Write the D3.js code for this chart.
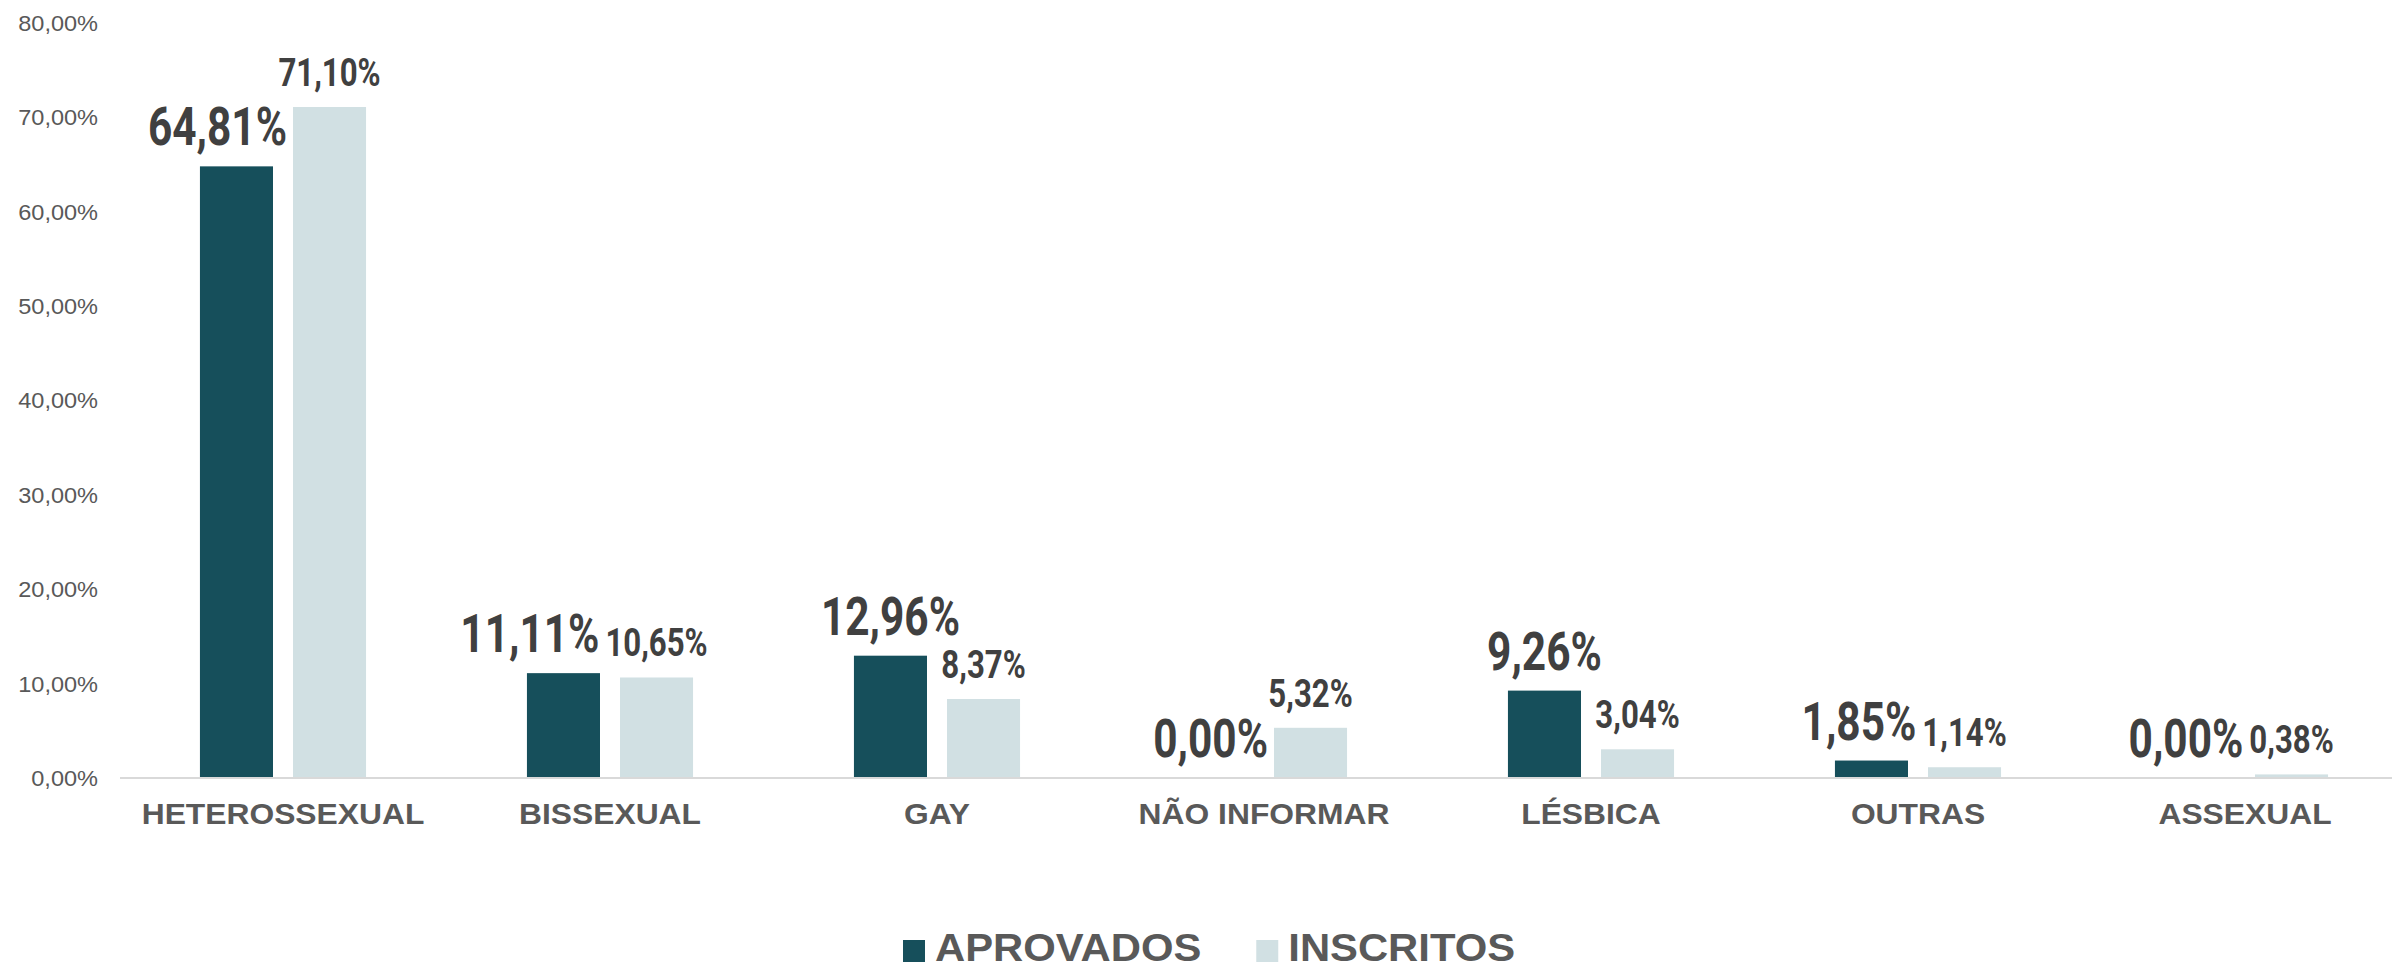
<!DOCTYPE html>
<html>
	<head>
		<meta charset="utf-8">
		<style type="text/css">
			body { margin: 0; background: #fff; }
			svg  { display: block; }
		</style>
		<title>Orientação sexual - aprovados e inscritos</title>
	</head>
	<body>
		<script src="https://cdn.jsdelivr.net/npm/d3@7"></script>
		<script>

// data /////////////////////////////////////////////////////////////////////

var categories = ["HETEROSSEXUAL", "BISSEXUAL", "GAY", "NÃO INFORMAR", "LÉSBICA", "OUTRAS", "ASSEXUAL"];
var series     = ["APROVADOS", "INSCRITOS"];
var aprovados  = [64.81, 11.11, 12.96, 0.00, 9.26, 1.85, 0.00];
var inscritos  = [71.10, 10.65, 8.37, 5.32, 3.04, 1.14, 0.38];
var y_ticks    = [0, 10, 20, 30, 40, 50, 60, 70, 80];

// helpers //////////////////////////////////////////////////////////////////

var width = 2392, height = 971;

var colors   = {APROVADOS: "#164f5b", INSCRITOS: "#d1e0e3"};
var txt_gray = "#595959", lbl_gray = "#404040";

var pt = d3.formatLocale({decimal: ",", thousands: ".", grouping: [3], currency: ["R$", ""]});
var fmt = v => pt.format(".2f")(v) + "%";

var svg = d3.select("body").append("svg")
	.attr("width", width)
	.attr("height", height);

var x0 = d3.scaleBand()
	.domain(categories)
	.range([119.5, 2408.5])
	.paddingInner(0.492)
	.paddingOuter(0.246);

var x1 = d3.scaleBand()
	.domain(series)
	.range([0, x0.bandwidth()])
	.paddingInner(0.215);

var y = d3.scaleLinear()
	.domain([0, 80])
	.range([778, 23]);

var rows = categories.map((c, i) => ({cat: c, APROVADOS: aprovados[i], INSCRITOS: inscritos[i]}));

// stretched text: the picture is slightly wider than tall fonts
function stext(g, x, y, sx) {
	return g.append("text")
		.attr("transform", `translate(${x},${y}) scale(${sx},1)`);
}

// y axis ///////////////////////////////////////////////////////////////////

var yax = svg.append("g");
y_ticks.forEach(t => {
	stext(yax, 98, y(t), 1.07)
		.attr("dy", "0.36em")
		.attr("text-anchor", "end")
		.attr("font-family", "Liberation Sans, Arial, sans-serif")
		.attr("font-size", 22)
		.attr("fill", txt_gray)
		.text(fmt(t));
});

// bars /////////////////////////////////////////////////////////////////////

var groups = svg.selectAll(".cat")
	.data(rows)
	.join("g")
		.attr("class", "cat")
		.attr("transform", d => `translate(${x0(d.cat)},0)`);

groups.selectAll("rect")
	.data(d => series.map(s => ({s: s, v: d[s]})))
	.join("rect")
		.attr("x", d => x1(d.s))
		.attr("y", d => y(d.v))
		.attr("width", x1.bandwidth())
		.attr("height", d => y(0) - y(d.v))
		.attr("fill", d => colors[d.s]);

svg.append("line")
	.attr("x1", 120).attr("x2", width)
	.attr("y1", y(0)).attr("y2", y(0))
	.attr("stroke", "#d9d9d9")
	.attr("stroke-width", 2);

// category labels
rows.forEach(d => {
	stext(svg, x0(d.cat) + x0.bandwidth() / 2, 824, 1.06)
		.attr("text-anchor", "middle")
		.attr("font-family", "Liberation Sans, Arial, sans-serif")
		.attr("font-weight", "bold")
		.attr("font-size", 30)
		.attr("fill", txt_gray)
		.text(d.cat);
});

// data labels //////////////////////////////////////////////////////////////

var lbl_size = {APROVADOS: 53, INSCRITOS: 39};
var lbl_sx = 0.8, lbl_gap = 21;

rows.forEach(d => {
	var boxes = {};
	series.slice().reverse().forEach(s => {
		var cx = x0(d.cat) + x1(s) + x1.bandwidth() / 2;
		var base = y(d[s]) - lbl_gap;
		var fs = lbl_size[s];
		var t = stext(svg, cx, base, lbl_sx)
			.attr("text-anchor", "middle")
			.attr("font-family", "Roboto, sans-serif")
			.attr("font-weight", 700)
			.attr("font-size", fs)
			.attr("fill", lbl_gray)
			.text(fmt(d[s]));
		var w = t.node().getComputedTextLength() * lbl_sx;
		boxes[s] = {t: t, cx: cx, base: base, left: cx - w / 2, right: cx + w / 2,
			top: base - 0.72 * fs, bottom: base + 0.2 * fs};
	});

	// push the APROVADOS label left when it runs into the INSCRITOS bar or label
	var a = boxes.APROVADOS, b = boxes.INSCRITOS;
	var bar = {left: x0(d.cat) + x1("INSCRITOS"), top: y(d.INSCRITOS)};
	var hits_lbl = a.right > b.left && a.bottom > b.top && a.top < b.bottom;
	var hits_bar = a.right > bar.left && a.bottom > bar.top;
	if (hits_lbl || hits_bar) {
		var limit = Math.min(hits_lbl ? b.left : Infinity, hits_bar ? bar.left : Infinity) - 6;
		var cx = a.cx - (a.right - limit);
		a.t.attr("transform", `translate(${cx},${a.base}) scale(${lbl_sx},1)`);
	}
});

// legend ///////////////////////////////////////////////////////////////////

var legend = svg.append("g");
var lx = 903;
series.forEach(s => {
	legend.append("rect")
		.attr("x", lx).attr("y", 940)
		.attr("width", 22).attr("height", 22)
		.attr("fill", colors[s]);
	var t = stext(legend, lx + 32, 961, 1.1)
		.attr("font-family", "Liberation Sans, Arial, sans-serif")
		.attr("font-weight", "bold")
		.attr("font-size", 38)
		.attr("fill", txt_gray)
		.text(s);
	lx += 32 + t.node().getComputedTextLength() * 1.1 + 55;
});

		</script>
	</body>
</html>
